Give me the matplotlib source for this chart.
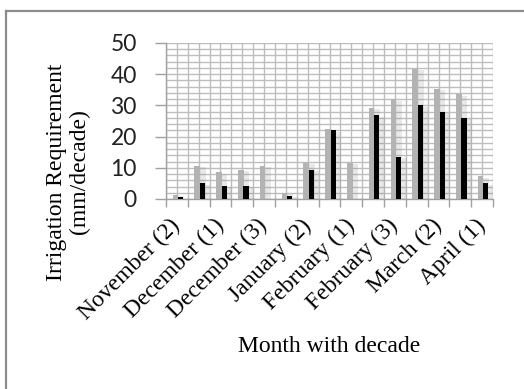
import matplotlib
matplotlib.use('Agg')
import matplotlib.pyplot as plt
import matplotlib.patheffects as pe
from matplotlib.lines import Line2D
import numpy as np

# decades (Nov 2 ... Apr 1)
categories = ['November (2)', 'November (3)', 'December (1)', 'December (2)', 'December (3)',
              'January (1)', 'January (2)', 'January (3)', 'February (1)', 'February (2)',
              'February (3)', 'March (1)', 'March (2)', 'March (3)', 'April (1)']
# grey series and black series (mm/decade)
gray_vals = [1.4, 10.6, 8.5, 9.4, 10.6, 2.0, 11.6, 22.4, 11.6, 29.3, 32.0, 41.8, 35.3, 33.5, 7.3]
black_vals = [0.5, 5.0, 4.2, 4.2, 0.0, 1.0, 9.4, 22.0, 0.0, 26.8, 13.5, 30.0, 27.9, 26.0, 5.0]

fig = plt.figure(figsize=(5.24, 3.89), dpi=100)
ax = fig.add_axes([166/524, 1-199/389, 327/524, 156/389])

x = np.arange(len(categories))
shadow = [pe.SimplePatchShadow(offset=(4, -1), shadow_rgbFace='#808080', alpha=0.18), pe.Normal()]
ax.bar(x - 0.07, gray_vals, width=0.26, color='#b3b3b3', zorder=3, path_effects=shadow)
ax.bar(x + 0.17, black_vals, width=0.23, color='black', zorder=4, path_effects=shadow)

ax.set_xlim(-0.5, len(categories) - 0.5)
ax.set_ylim(0, 50)

grid_c = '#bdbdbd'
# major x ticks at boundaries (tick marks), minor at centers (labels)
ax.set_xticks(np.arange(-0.5, len(categories), 1.0))
ax.set_xticklabels([])
ax.set_xticks(x, minor=True)
ax.set_xticklabels([c if i % 2 == 0 else '' for i, c in enumerate(categories)], minor=True,
                   rotation=45, ha='right', va='center', rotation_mode='anchor',
                   fontfamily='Liberation Serif', fontsize=17)
ax.tick_params(axis='x', which='major', length=6, color='#a0a0a0', width=1)
ax.tick_params(axis='x', which='minor', length=0, pad=17)

ax.set_yticks(np.arange(0, 51, 10))
ax.set_yticks(np.arange(0, 51, 2), minor=True)
ax.tick_params(axis='y', which='major', length=8, color='#a0a0a0', width=1, labelsize=16.5, pad=13)
ax.tick_params(axis='y', which='minor', length=0)
for t in ax.get_yticklabels():
    t.set_fontfamily('Lato')
    t.set_color('#222222')

ax.grid(True, which='both', color=grid_c, linewidth=1.0, zorder=0)
ax.set_axisbelow(True)
for s in ['top', 'right']:
    ax.spines[s].set_visible(False)
for s in ['left', 'bottom']:
    ax.spines[s].set_color('#a0a0a0')
    ax.spines[s].set_linewidth(1.0)

fig.text(68/524, 1-172/389, 'Irrigation Requirement\n(mm/decade)', rotation=90,
         ha='center', va='center', multialignment='center',
         fontfamily='Liberation Serif', fontsize=17, linespacing=1.1)
fig.text(329/524, 1-347/389, 'Month with decade', ha='center', va='center',
         fontfamily='Liberation Serif', fontsize=17)

# outer chart frame (left and top edges visible)
fig.add_artist(Line2D([6/524, 6/524], [0, 1-11/389], transform=fig.transFigure, color='#8c8c8c', lw=1.6))
fig.add_artist(Line2D([6/524, 1], [1-11/389, 1-11/389], transform=fig.transFigure, color='#8c8c8c', lw=1.6))

fig.savefig('out.png', dpi=100)
